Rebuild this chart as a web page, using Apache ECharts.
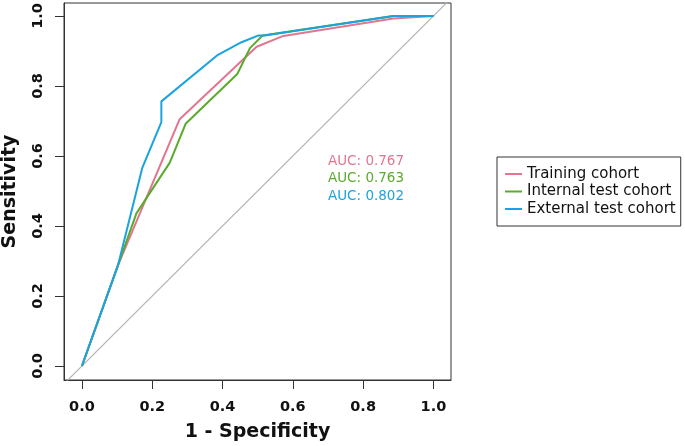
<!DOCTYPE html>
<html>
<head>
<meta charset="utf-8">
<script src="https://cdn.jsdelivr.net/npm/echarts@6/dist/echarts.min.js"></script>
<style>html,body{margin:0;padding:0;background:#fff}#c{width:685px;height:446px}</style>
</head>
<body>
<div id="c"></div>
<script>
// ROC curves: x = 1 - specificity, y = sensitivity
const fprTrain = [0, 0.103, 0.278, 0.497, 0.573, 0.886, 1];
const tprTrain = [0, 0.289, 0.705, 0.912, 0.943, 0.993, 1];

const fprInternal = [0, 0.103, 0.155, 0.250, 0.295, 0.442, 0.478, 0.514, 0.886, 1];
const tprInternal = [0, 0.289, 0.436, 0.581, 0.692, 0.834, 0.908, 0.944, 1.000, 1];

const fprExternal = [0, 0.103, 0.172, 0.226, 0.226, 0.387, 0.454, 0.501, 0.520, 0.886, 1];
const tprExternal = [0, 0.289, 0.567, 0.697, 0.756, 0.889, 0.925, 0.944, 0.944, 1.000, 1];

const seriesNames = ['Training cohort', 'Internal test cohort', 'External test cohort'];
const aucLabels = ['AUC: 0.767', 'AUC: 0.763', 'AUC: 0.802'];
const tickValues = [0, 0.2, 0.4, 0.6, 0.8, 1.0];
const diagX = [-0.1, 1.1];

const colors = ['#E07690', '#5AAA2C', '#1AA3DF'];
const FONT = 'DejaVu Sans';

function pairs(xs, ys) { return xs.map((x, i) => [x, ys[i]]); }

const chart = echarts.init(document.getElementById('c'), null, {renderer: 'canvas'});

const axisCommon = {
  type: 'value',
  splitLine: {show: false},
  axisLine: {show: true, onZero: false, lineStyle: {color: '#333', width: 1}},
  axisTick: {show: true, customValues: tickValues, length: 9, lineStyle: {color: '#333'}},
  nameLocation: 'middle',
  nameTextStyle: {fontFamily: FONT, fontWeight: 'bold', fontSize: 19, color: '#111'}
};

chart.setOption({
  animation: false,
  backgroundColor: '#fff',
  grid: {left: 64, right: 234, top: 3, bottom: 66, show: true, borderColor: '#333', borderWidth: 1,
    backgroundColor: 'transparent', containLabel: false, outerBoundsMode: 'none'},
  xAxis: Object.assign({}, axisCommon, {
    min: -0.051, max: 1.05,
    name: '1 - Specificity', nameGap: 43,
    axisLabel: {customValues: tickValues, margin: 20, fontFamily: FONT, fontWeight: 'bold', fontSize: 14.5, color: '#111',
      formatter: v => v.toFixed(1)}
  }),
  yAxis: Object.assign({}, axisCommon, {
    min: -0.04, max: 1.037,
    name: 'Sensitivity', nameGap: 44,
    axisLabel: {customValues: tickValues, margin: 18, rotate: 90, fontFamily: FONT, fontWeight: 'bold', fontSize: 14.5, color: '#111',
      formatter: v => v.toFixed(1)}
  }),
  legend: {
    data: seriesNames,
    orient: 'vertical',
    left: 497, top: 157,
    padding: [9.5, 5, 9.5, 8],
    itemGap: 2.5,
    itemWidth: 17, itemHeight: 2,
    itemTextGap: 10,
    icon: 'rect',
    borderColor: '#333', borderWidth: 1, borderRadius: 0,
    textStyle: {fontFamily: FONT, fontSize: 15, color: '#111', lineHeight: 15}
  },
  graphic: aucLabels.map((t, i) => ({
    type: 'text', left: 328, top: 154 + i * 17.5,
    style: {text: t, fill: colors[i], font: '13.5px "DejaVu Sans"'}
  })),
  series: [
    {type: 'line', name: 'diag', data: pairs(diagX, diagX), symbol: 'none', clip: true, silent: true,
      itemStyle: {color: '#B4B4B4'}, lineStyle: {color: '#B4B4B4', width: 1.2}, z: 1},
    {type: 'line', name: seriesNames[0], data: pairs(fprTrain, tprTrain), symbol: 'none',
      itemStyle: {color: colors[0]}, lineStyle: {color: colors[0], width: 2}, z: 2},
    {type: 'line', name: seriesNames[1], data: pairs(fprInternal, tprInternal), symbol: 'none',
      itemStyle: {color: colors[1]}, lineStyle: {color: colors[1], width: 2}, z: 3},
    {type: 'line', name: seriesNames[2], data: pairs(fprExternal, tprExternal), symbol: 'none',
      itemStyle: {color: colors[2]}, lineStyle: {color: colors[2], width: 2}, z: 4}
  ]
});
</script>
</body>
</html>
